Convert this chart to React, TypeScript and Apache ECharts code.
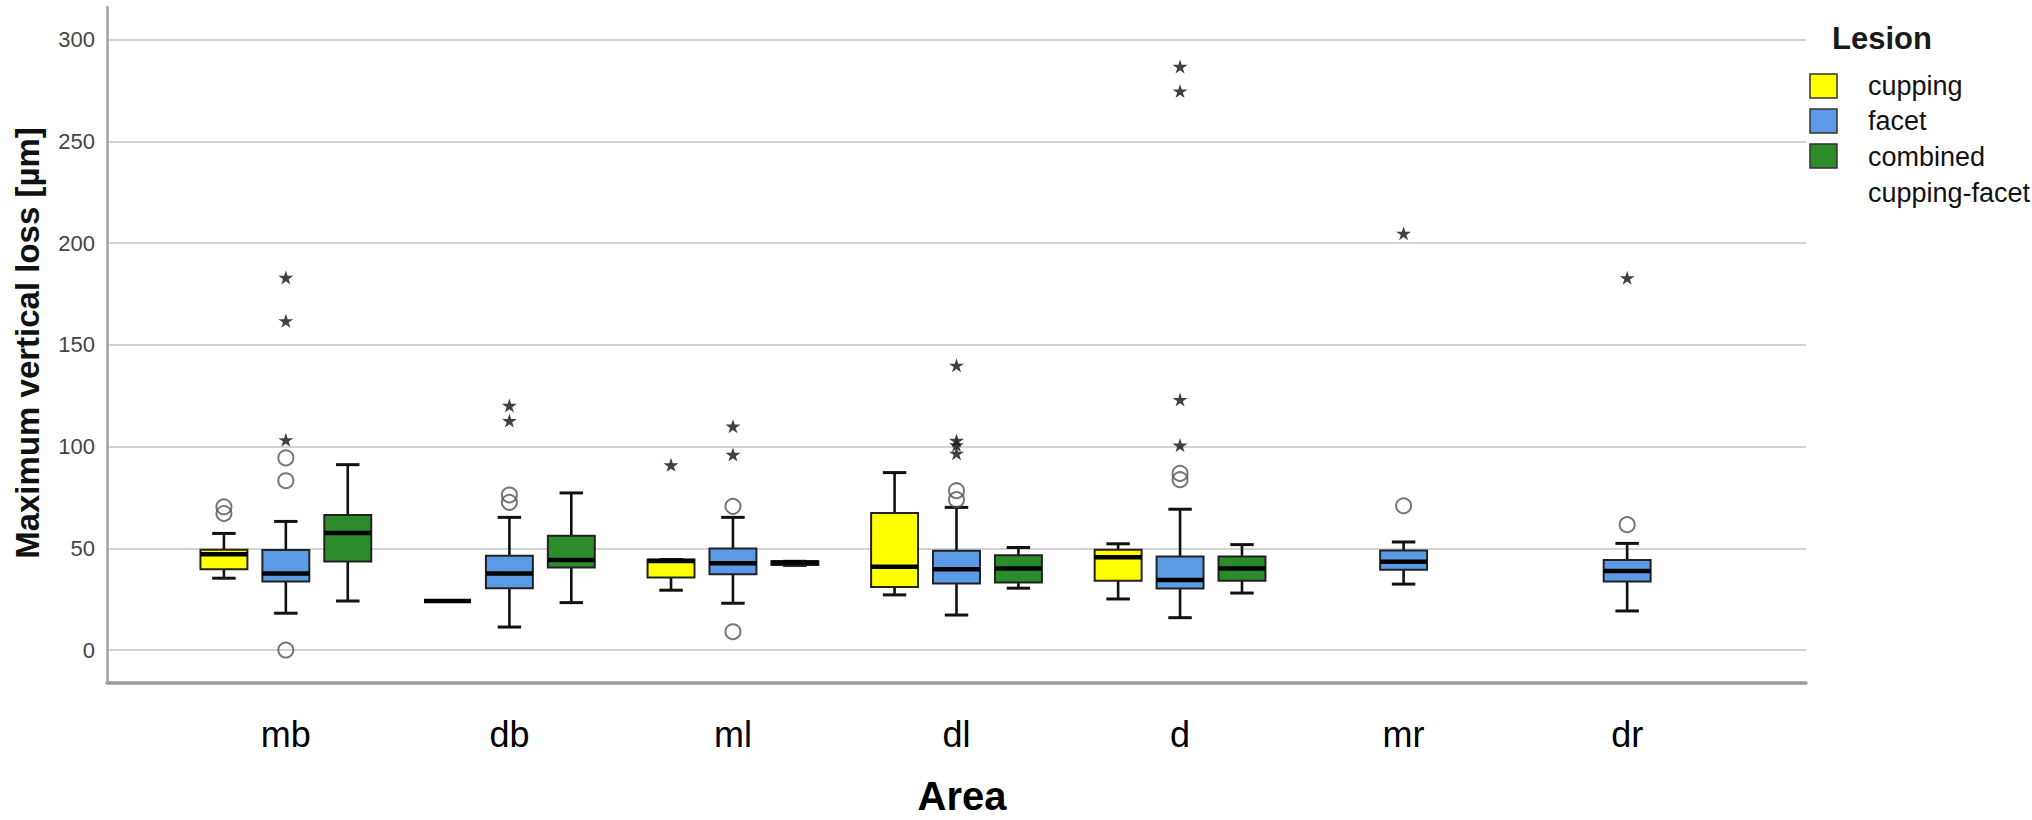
import React, { useEffect, useRef } from "react";
import * as echarts from "echarts";

const areas = ["mb", "db", "ml", "dl", "d", "mr", "dr"];
const lesionNames = ["cupping", "facet", "combined cupping-facet"];
const lesionColors = ["#FFFF00", "#5B9BE6", "#2C8C2C"];
const yTicks = [0, 50, 100, 150, 200, 250, 300];

// [lower whisker, Q1, median, Q3, upper whisker] per area (null = no data)
const cuppingBoxes = [
  [35.3, 39.7, 47.1, 49.3, 57.3],
  [24.1, 24.1, 24.1, 24.1, 24.1],
  [29.4, 35.6, 43.7, 44.5, 44.5],
  [27.1, 31.0, 40.9, 67.3, 87.2],
  [25.1, 34.1, 45.6, 49.3, 52.2],
  null,
  null,
];
const facetBoxes = [
  [18.1, 33.7, 37.6, 49.1, 63.2],
  [11.3, 30.4, 37.6, 46.3, 65.2],
  [23.0, 37.3, 42.7, 49.9, 65.2],
  [17.2, 32.7, 39.7, 48.8, 70.1],
  [15.9, 30.2, 34.4, 46.0, 69.2],
  [32.4, 39.4, 43.4, 48.9, 53.1],
  [19.2, 33.7, 38.9, 44.3, 52.4],
];
const combinedBoxes = [
  [24.1, 43.5, 57.5, 66.3, 91.1],
  [23.3, 40.5, 44.3, 56.2, 77.2],
  [41.6, 41.8, 43.0, 43.6, 43.6],
  [30.4, 33.2, 40.1, 46.6, 50.4],
  [28.0, 34.1, 40.1, 46.0, 51.8],
  null,
  null,
];

// outliers: [area index, value]
const cuppingCircles = [[0, 70.4], [0, 67.1]];
const cuppingStars = [[2, 91.0]];
const facetCircles = [
  [0, 94.4], [0, 83.2], [0, 0], [1, 76.2], [1, 72.6], [2, 70.6], [2, 9.0],
  [3, 78.3], [3, 73.9], [4, 86.8], [4, 83.7], [5, 70.9], [6, 61.6],
];
const facetStars = [
  [0, 183.1], [0, 161.8], [0, 103.3], [1, 120.2], [1, 112.8], [2, 110.0], [2, 96.1],
  [3, 139.9], [3, 103.0], [3, 100.8], [3, 96.7], [4, 286.8], [4, 274.7], [4, 123.1],
  [4, 100.7], [5, 204.8], [6, 182.9],
];
const combinedCircles: number[][] = [];
const combinedStars: number[][] = [];

const FONT = "'Liberation Sans', Arial, Helvetica, sans-serif";
const STAR = "path://M50,0 L61,35 L98,35 L68,57 L79,91 L50,70 L21,91 L32,57 L2,35 L39,35 Z";
const OFFSETS = [-0.277, 0, 0.277];
const BOX_W = 0.21;

export default function App() {
  const ref = useRef<HTMLDivElement>(null);

  useEffect(() => {
    if (!ref.current) return;
    const chart = echarts.init(ref.current, undefined, { renderer: "svg" });

    const boxSets = [cuppingBoxes, facetBoxes, combinedBoxes];
    const circleSets = [cuppingCircles, facetCircles, combinedCircles];
    const starSets = [cuppingStars, facetStars, combinedStars];

    const boxSeries = boxSets.map((boxes, li) => ({
      type: "custom",
      name: lesionNames[li],
      data: boxes
        .map((b, i) => (b ? [i + OFFSETS[li], ...b] : null))
        .filter((d) => d !== null),
      encode: { x: 0, y: [1, 2, 3, 4, 5] },
      renderItem: (params: any, api: any) => {
        const x = api.value(0);
        const pLo = api.coord([x, api.value(1)]);
        const pQ1 = api.coord([x, api.value(2)]);
        const pMed = api.coord([x, api.value(3)]);
        const pQ3 = api.coord([x, api.value(4)]);
        const pHi = api.coord([x, api.value(5)]);
        const bw = api.size([BOX_W, 0])[0];
        const cx = pLo[0];
        const cap = bw * 0.5;
        const ws = { stroke: "#111", lineWidth: 2.6 };
        return {
          type: "group",
          children: [
            { type: "line", shape: { x1: cx, y1: pLo[1], x2: cx, y2: pQ1[1] }, style: ws },
            { type: "line", shape: { x1: cx, y1: pQ3[1], x2: cx, y2: pHi[1] }, style: ws },
            { type: "line", shape: { x1: cx - cap / 2, y1: pLo[1], x2: cx + cap / 2, y2: pLo[1] }, style: { stroke: "#111", lineWidth: 3 } },
            { type: "line", shape: { x1: cx - cap / 2, y1: pHi[1], x2: cx + cap / 2, y2: pHi[1] }, style: { stroke: "#111", lineWidth: 3 } },
            {
              type: "rect",
              shape: { x: cx - bw / 2, y: pQ3[1], width: bw, height: pQ1[1] - pQ3[1] },
              style: { fill: lesionColors[li], stroke: "#222", lineWidth: 2 },
            },
            { type: "line", shape: { x1: cx - bw / 2, y1: pMed[1], x2: cx + bw / 2, y2: pMed[1] }, style: { stroke: "#000", lineWidth: 4.5 } },
          ],
        };
      },
    }));

    const circleData: number[][] = [];
    const starData: number[][] = [];
    circleSets.forEach((set, li) => set.forEach(([a, v]) => circleData.push([a + OFFSETS[li], v])));
    starSets.forEach((set, li) => set.forEach(([a, v]) => starData.push([a + OFFSETS[li], v])));

    const legendRows = [74, 109, 144];
    const legendGraphics: any[] = [
      {
        type: "text",
        x: 1832,
        y: 38,
        style: { text: "Lesion", font: `bold 31px ${FONT}`, fill: "#1a1a1a", textVerticalAlign: "middle" },
      },
    ];
    legendRows.forEach((top, i) => {
      legendGraphics.push({
        type: "rect",
        shape: { x: 1810, y: top, width: 27, height: 24 },
        style: { fill: lesionColors[i], stroke: "#333", lineWidth: 1.5 },
      });
    });
    const legendLabels = ["cupping", "facet", "combined", "cupping-facet"];
    const legendLabelY = [86, 121, 157, 193];
    legendLabels.forEach((t, i) => {
      legendGraphics.push({
        type: "text",
        x: 1868,
        y: legendLabelY[i],
        style: { text: t, font: `27px ${FONT}`, fill: "#111", textVerticalAlign: "middle" },
      });
    });

    chart.setOption({
      animation: false,
      backgroundColor: "#fff",
      grid: { left: 107, right: 226, top: 7, bottom: 137 },
      xAxis: {
        type: "value",
        min: -0.8,
        max: 6.8,
        splitLine: { show: false },
        axisTick: { show: false },
        axisLine: { show: true, onZero: false, lineStyle: { color: "#9a9a9a", width: 3.5 } },
        axisLabel: {
          customValues: [0, 1, 2, 3, 4, 5, 6],
          formatter: (v: number) => areas[Math.round(v)] ?? "",
          fontSize: 36,
          fontFamily: FONT,
          color: "#000",
          margin: 33,
        },
      },
      yAxis: {
        type: "value",
        min: -16.2,
        max: 316,
        axisLine: { show: true, onZero: false, lineStyle: { color: "#a0a0a0", width: 2.5 } },
        axisTick: { show: false, customValues: yTicks },
        axisLabel: {
          customValues: yTicks,
          fontSize: 22,
          fontFamily: FONT,
          color: "#444",
          margin: 12,
        },
        splitLine: { show: true, lineStyle: { color: "#d3d3d3", width: 2 } },
      },
      graphic: [
        {
          type: "text",
          x: 27,
          y: 343,
          rotation: Math.PI / 2,
          style: {
            text: "Maximum vertical loss [µm]",
            font: `bold 33px ${FONT}`,
            fill: "#111",
            textAlign: "center",
            textVerticalAlign: "middle",
          },
        },
        {
          type: "text",
          x: 962,
          y: 796,
          style: { text: "Area", font: `bold 40px ${FONT}`, fill: "#000", textAlign: "center", textVerticalAlign: "middle" },
        },
        ...legendGraphics,
      ],
      series: [
        ...boxSeries,
        {
          type: "scatter",
          name: "outliers",
          data: circleData,
          symbol: "circle",
          symbolSize: 15,
          itemStyle: { color: "rgba(0,0,0,0)", borderColor: "#555", borderWidth: 2 },
          z: 5,
        },
        {
          type: "scatter",
          name: "extremes",
          data: starData,
          symbol: STAR,
          symbolSize: [15, 14],
          itemStyle: { color: "#111" },
          z: 5,
        },
      ],
    });

    return () => chart.dispose();
  }, []);

  return <div ref={ref} style={{ position: "absolute", left: 0, top: 0, width: 2032, height: 820 }} />;
}
